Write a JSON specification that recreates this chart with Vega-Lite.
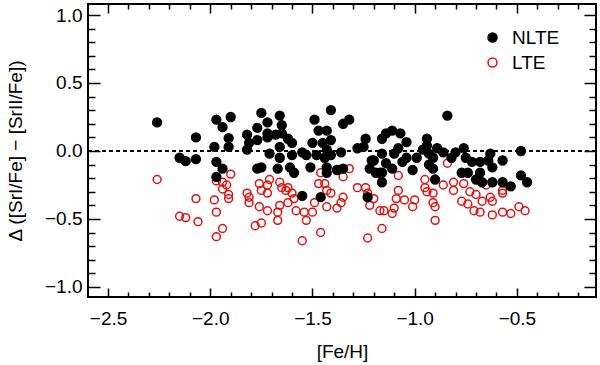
{
  "$schema": "https://vega.github.io/schema/vega-lite/v6.json",
  "width": 508,
  "height": 293,
  "autosize": {"type": "none"},
  "padding": {"left": 88, "top": 4, "right": 4, "bottom": 68},
  "config": {
    "font": "Liberation Sans",
    "view": {"stroke": "black", "strokeWidth": 2},
    "axis": {"grid": false, "domain": false, "tickColor": "black", "labelColor": "black", "titleColor": "black", "tickWidth": 1.5}
  },
  "data": {"values": [
    {"x":-2.26,"y":0.21,"type":"NLTE"},{"x":-2.15,"y":-0.05,"type":"NLTE"},{"x":-2.12,"y":-0.075,"type":"NLTE"},{"x":-2.07,"y":0.10,"type":"NLTE"},{"x":-2.07,"y":-0.06,"type":"NLTE"},
    {"x":-1.98,"y":0.03,"type":"NLTE"},{"x":-1.97,"y":0.23,"type":"NLTE"},{"x":-1.90,"y":0.25,"type":"NLTE"},{"x":-1.94,"y":0.175,"type":"NLTE"},{"x":-1.91,"y":0.094,"type":"NLTE"},
    {"x":-1.91,"y":0.03,"type":"NLTE"},{"x":-1.97,"y":-0.08,"type":"NLTE"},{"x":-1.94,"y":-0.13,"type":"NLTE"},{"x":-1.97,"y":-0.19,"type":"NLTE"},{"x":-1.82,"y":0.12,"type":"NLTE"},
    {"x":-1.75,"y":0.28,"type":"NLTE"},{"x":-1.72,"y":0.21,"type":"NLTE"},{"x":-1.77,"y":0.17,"type":"NLTE"},{"x":-1.81,"y":0.06,"type":"NLTE"},{"x":-1.77,"y":0.08,"type":"NLTE"},
    {"x":-1.82,"y":0.01,"type":"NLTE"},{"x":-1.77,"y":-0.13,"type":"NLTE"},{"x":-1.75,"y":-0.12,"type":"NLTE"},{"x":-1.71,"y":-0.02,"type":"NLTE"},{"x":-1.66,"y":0.26,"type":"NLTE"},
    {"x":-1.65,"y":0.19,"type":"NLTE"},{"x":-1.72,"y":0.13,"type":"NLTE"},{"x":-1.68,"y":0.12,"type":"NLTE"},{"x":-1.65,"y":0.13,"type":"NLTE"},{"x":-1.62,"y":0.09,"type":"NLTE"},
    {"x":-1.66,"y":0.03,"type":"NLTE"},{"x":-1.60,"y":0.06,"type":"NLTE"},{"x":-1.66,"y":-0.05,"type":"NLTE"},{"x":-1.67,"y":-0.13,"type":"NLTE"},{"x":-1.60,"y":-0.03,"type":"NLTE"},
    {"x":-1.61,"y":-0.12,"type":"NLTE"},{"x":-1.59,"y":-0.16,"type":"NLTE"},{"x":-1.55,"y":-0.01,"type":"NLTE"},{"x":-1.53,"y":-0.03,"type":"NLTE"},{"x":-1.51,"y":-0.12,"type":"NLTE"},
    {"x":-1.50,"y":0.06,"type":"NLTE"},{"x":-1.48,"y":-0.03,"type":"NLTE"},{"x":-1.43,"y":-0.12,"type":"NLTE"},{"x":-1.43,"y":-0.16,"type":"NLTE"},{"x":-1.41,"y":-0.03,"type":"NLTE"},
    {"x":-1.38,"y":-0.14,"type":"NLTE"},{"x":-1.36,"y":-0.01,"type":"NLTE"},{"x":-1.55,"y":-0.33,"type":"NLTE"},{"x":-1.46,"y":-0.34,"type":"NLTE"},{"x":-1.49,"y":0.23,"type":"NLTE"},
    {"x":-1.47,"y":0.15,"type":"NLTE"},{"x":-1.43,"y":0.15,"type":"NLTE"},{"x":-1.41,"y":0.30,"type":"NLTE"},{"x":-1.35,"y":0.20,"type":"NLTE"},{"x":-1.32,"y":0.23,"type":"NLTE"},
    {"x":-1.45,"y":0.06,"type":"NLTE"},{"x":-1.41,"y":0.08,"type":"NLTE"},{"x":-1.43,"y":0.01,"type":"NLTE"},{"x":-1.44,"y":-0.05,"type":"NLTE"},{"x":-1.35,"y":-0.13,"type":"NLTE"},
    {"x":-1.28,"y":0.02,"type":"NLTE"},{"x":-1.25,"y":0.03,"type":"NLTE"},{"x":-1.24,"y":0.09,"type":"NLTE"},{"x":-1.21,"y":-0.07,"type":"NLTE"},{"x":-1.22,"y":-0.13,"type":"NLTE"},
    {"x":-1.19,"y":-0.16,"type":"NLTE"},{"x":-1.16,"y":-0.23,"type":"NLTE"},{"x":-1.23,"y":-0.34,"type":"NLTE"},{"x":-1.16,"y":0.09,"type":"NLTE"},{"x":-1.14,"y":0.13,"type":"NLTE"},
    {"x":-1.11,"y":0.15,"type":"NLTE"},{"x":-1.07,"y":0.13,"type":"NLTE"},{"x":-1.04,"y":0.065,"type":"NLTE"},{"x":-0.94,"y":0.09,"type":"NLTE"},{"x":-0.94,"y":0.04,"type":"NLTE"},
    {"x":-0.84,"y":0.26,"type":"NLTE"},{"x":-1.16,"y":-0.02,"type":"NLTE"},{"x":-1.10,"y":-0.02,"type":"NLTE"},{"x":-1.08,"y":0.02,"type":"NLTE"},{"x":-1.04,"y":-0.05,"type":"NLTE"},
    {"x":-0.99,"y":-0.05,"type":"NLTE"},{"x":-0.96,"y":0.01,"type":"NLTE"},{"x":-0.93,"y":-0.02,"type":"NLTE"},{"x":-0.91,"y":-0.05,"type":"NLTE"},{"x":-0.89,"y":0.02,"type":"NLTE"},
    {"x":-0.86,"y":-0.01,"type":"NLTE"},{"x":-0.80,"y":-0.01,"type":"NLTE"},{"x":-0.76,"y":0.02,"type":"NLTE"},{"x":-0.82,"y":-0.05,"type":"NLTE"},{"x":-0.75,"y":-0.05,"type":"NLTE"},
    {"x":-0.72,"y":-0.08,"type":"NLTE"},{"x":-0.68,"y":-0.08,"type":"NLTE"},{"x":-0.63,"y":-0.02,"type":"NLTE"},{"x":-0.64,"y":-0.07,"type":"NLTE"},{"x":-0.62,"y":-0.12,"type":"NLTE"},
    {"x":-0.57,"y":-0.07,"type":"NLTE"},{"x":-0.48,"y":0.00,"type":"NLTE"},{"x":-1.14,"y":-0.09,"type":"NLTE"},{"x":-1.11,"y":-0.13,"type":"NLTE"},{"x":-1.06,"y":-0.08,"type":"NLTE"},
    {"x":-1.16,"y":-0.16,"type":"NLTE"},{"x":-1.01,"y":-0.14,"type":"NLTE"},{"x":-0.93,"y":-0.10,"type":"NLTE"},{"x":-0.91,"y":-0.13,"type":"NLTE"},{"x":-0.77,"y":-0.16,"type":"NLTE"},
    {"x":-0.74,"y":-0.16,"type":"NLTE"},{"x":-0.68,"y":-0.16,"type":"NLTE"},{"x":-0.70,"y":-0.21,"type":"NLTE"},{"x":-0.67,"y":-0.23,"type":"NLTE"},{"x":-0.62,"y":-0.23,"type":"NLTE"},
    {"x":-0.57,"y":-0.23,"type":"NLTE"},{"x":-0.53,"y":-0.26,"type":"NLTE"},{"x":-0.48,"y":-0.18,"type":"NLTE"},{"x":-0.45,"y":-0.23,"type":"NLTE"},{"x":-0.90,"y":-0.21,"type":"NLTE"},
    {"x":-1.17,"y":-0.16,"type":"NLTE"},{"x":-1.20,"y":-0.07,"type":"NLTE"},{"x":-1.72,"y":0.10,"type":"NLTE"},
    {"x":-2.26,"y":-0.21,"type":"LTE"},{"x":-2.15,"y":-0.48,"type":"LTE"},{"x":-2.12,"y":-0.49,"type":"LTE"},{"x":-2.06,"y":-0.52,"type":"LTE"},{"x":-2.07,"y":-0.35,"type":"LTE"},
    {"x":-1.98,"y":-0.36,"type":"LTE"},{"x":-1.97,"y":-0.45,"type":"LTE"},{"x":-1.97,"y":-0.63,"type":"LTE"},{"x":-1.94,"y":-0.57,"type":"LTE"},{"x":-1.97,"y":-0.22,"type":"LTE"},
    {"x":-1.94,"y":-0.23,"type":"LTE"},{"x":-1.94,"y":-0.28,"type":"LTE"},{"x":-1.92,"y":-0.25,"type":"LTE"},{"x":-1.91,"y":-0.32,"type":"LTE"},{"x":-1.91,"y":-0.35,"type":"LTE"},
    {"x":-1.90,"y":-0.17,"type":"LTE"},{"x":-1.82,"y":-0.31,"type":"LTE"},{"x":-1.81,"y":-0.34,"type":"LTE"},{"x":-1.81,"y":-0.38,"type":"LTE"},{"x":-1.76,"y":-0.24,"type":"LTE"},
    {"x":-1.75,"y":-0.29,"type":"LTE"},{"x":-1.72,"y":-0.31,"type":"LTE"},{"x":-1.76,"y":-0.41,"type":"LTE"},{"x":-1.72,"y":-0.44,"type":"LTE"},{"x":-1.78,"y":-0.55,"type":"LTE"},
    {"x":-1.75,"y":-0.53,"type":"LTE"},{"x":-1.71,"y":-0.21,"type":"LTE"},{"x":-1.66,"y":-0.23,"type":"LTE"},{"x":-1.72,"y":-0.25,"type":"LTE"},
    {"x":-1.65,"y":-0.27,"type":"LTE"},{"x":-1.62,"y":-0.27,"type":"LTE"},{"x":-1.63,"y":-0.29,"type":"LTE"},{"x":-1.60,"y":-0.31,"type":"LTE"},{"x":-1.59,"y":-0.35,"type":"LTE"},
    {"x":-1.62,"y":-0.38,"type":"LTE"},{"x":-1.66,"y":-0.40,"type":"LTE"},{"x":-1.67,"y":-0.45,"type":"LTE"},{"x":-1.67,"y":-0.51,"type":"LTE"},{"x":-1.58,"y":-0.44,"type":"LTE"},
    {"x":-1.54,"y":-0.45,"type":"LTE"},{"x":-1.53,"y":-0.51,"type":"LTE"},{"x":-1.50,"y":-0.45,"type":"LTE"},{"x":-1.49,"y":-0.38,"type":"LTE"},{"x":-1.47,"y":-0.24,"type":"LTE"},
    {"x":-1.44,"y":-0.24,"type":"LTE"},{"x":-1.43,"y":-0.29,"type":"LTE"},{"x":-1.41,"y":-0.31,"type":"LTE"},{"x":-1.43,"y":-0.41,"type":"LTE"},{"x":-1.38,"y":-0.42,"type":"LTE"},
    {"x":-1.36,"y":-0.38,"type":"LTE"},{"x":-1.35,"y":-0.34,"type":"LTE"},{"x":-1.55,"y":-0.66,"type":"LTE"},{"x":-1.46,"y":-0.60,"type":"LTE"},{"x":-1.46,"y":-0.16,"type":"LTE"},
    {"x":-1.32,"y":-0.13,"type":"LTE"},{"x":-1.35,"y":-0.19,"type":"LTE"},{"x":-1.28,"y":-0.27,"type":"LTE"},{"x":-1.24,"y":-0.27,"type":"LTE"},{"x":-1.23,"y":-0.31,"type":"LTE"},
    {"x":-1.22,"y":-0.40,"type":"LTE"},{"x":-1.20,"y":-0.35,"type":"LTE"},{"x":-1.17,"y":-0.44,"type":"LTE"},{"x":-1.15,"y":-0.44,"type":"LTE"},{"x":-1.11,"y":-0.46,"type":"LTE"},
    {"x":-1.10,"y":-0.42,"type":"LTE"},{"x":-1.09,"y":-0.35,"type":"LTE"},{"x":-1.08,"y":-0.29,"type":"LTE"},{"x":-1.08,"y":-0.18,"type":"LTE"},{"x":-1.05,"y":-0.36,"type":"LTE"},
    {"x":-1.01,"y":-0.41,"type":"LTE"},{"x":-1.00,"y":-0.36,"type":"LTE"},{"x":-0.95,"y":-0.21,"type":"LTE"},{"x":-0.95,"y":-0.27,"type":"LTE"},{"x":-0.94,"y":-0.30,"type":"LTE"},
    {"x":-0.91,"y":-0.31,"type":"LTE"},{"x":-0.91,"y":-0.38,"type":"LTE"},{"x":-0.90,"y":-0.41,"type":"LTE"},{"x":-0.90,"y":-0.51,"type":"LTE"},{"x":-0.81,"y":-0.29,"type":"LTE"},
    {"x":-1.16,"y":-0.57,"type":"LTE"},{"x":-1.23,"y":-0.64,"type":"LTE"},{"x":-0.84,"y":-0.09,"type":"LTE"},{"x":-0.86,"y":-0.25,"type":"LTE"},{"x":-0.81,"y":-0.23,"type":"LTE"},
    {"x":-0.76,"y":-0.24,"type":"LTE"},{"x":-0.73,"y":-0.30,"type":"LTE"},{"x":-0.70,"y":-0.32,"type":"LTE"},{"x":-0.77,"y":-0.37,"type":"LTE"},{"x":-0.74,"y":-0.39,"type":"LTE"},
    {"x":-0.67,"y":-0.37,"type":"LTE"},{"x":-0.63,"y":-0.34,"type":"LTE"},{"x":-0.62,"y":-0.37,"type":"LTE"},{"x":-0.57,"y":-0.29,"type":"LTE"},{"x":-0.57,"y":-0.31,"type":"LTE"},
    {"x":-0.71,"y":-0.44,"type":"LTE"},{"x":-0.68,"y":-0.45,"type":"LTE"},{"x":-0.62,"y":-0.47,"type":"LTE"},{"x":-0.57,"y":-0.45,"type":"LTE"},{"x":-0.53,"y":-0.46,"type":"LTE"},
    {"x":-0.49,"y":-0.41,"type":"LTE"},{"x":-0.46,"y":-0.44,"type":"LTE"},{"x":-0.65,"y":-0.25,"type":"LTE"}
  ]},
  "resolve": {"axis": {"x": "independent", "y": "independent"}},
  "layer": [
    {
      "mark": {"type": "rule", "color": "black", "strokeWidth": 1, "strokeDash": [4, 3]},
      "encoding": {"y": {"datum": 0, "type": "quantitative", "axis": null}}
    },
    {
      "transform": [{"filter": "datum.type === 'LTE'"}],
      "mark": {"type": "point", "shape": "circle", "size": 62, "strokeWidth": 1.5, "opacity": 1},
      "encoding": {
        "x": {"field": "x", "type": "quantitative", "scale": {"domain": [-2.598, -0.113], "nice": false, "zero": false},
          "axis": {"orient": "bottom", "values": [-2.5, -2, -1.5, -1, -0.5], "format": ".1f", "ticks": false, "labelFontSize": 19, "labelPadding": 12,
            "title": "[Fe/H]", "titleFontSize": 19, "titleFontWeight": "normal", "titleY": 54, "titleBaseline": "middle"}},
        "y": {"field": "y", "type": "quantitative", "scale": {"domain": [-1.074, 1.081], "nice": false, "zero": false},
          "axis": {"orient": "left", "values": [-1, -0.5, 0, 0.5, 1], "format": ".1f", "ticks": false, "labelFontSize": 19, "labelPadding": 6,
            "title": "Δ ([SrI/Fe] − [SrII/Fe])", "titleFontSize": 19, "titleFontWeight": "normal", "titleX": -73, "titleBaseline": "middle"}},
        "fill": {"field": "type", "type": "nominal", "scale": {"domain": ["NLTE", "LTE"], "range": ["black", "transparent"]},
          "legend": {"title": null, "orient": "none", "legendX": 395, "legendY": 24, "labelFontSize": 19, "symbolSize": 80, "symbolStrokeWidth": 1.5, "labelOffset": 10, "rowPadding": 5, "padding": 0, "labelColor": "black"}},
        "stroke": {"field": "type", "type": "nominal", "scale": {"domain": ["NLTE", "LTE"], "range": ["black", "#e01010"]},
          "legend": {"title": null, "orient": "none", "legendX": 395, "legendY": 24, "labelFontSize": 19, "symbolSize": 80, "symbolStrokeWidth": 1.5, "labelOffset": 10, "rowPadding": 5, "padding": 0, "labelColor": "black"}}
      }
    },
    {
      "transform": [{"filter": "datum.type === 'NLTE'"}],
      "mark": {"type": "point", "shape": "circle", "size": 78, "strokeWidth": 1.5, "opacity": 1},
      "encoding": {
        "x": {"field": "x", "type": "quantitative", "axis": {"orient": "bottom", "values": [-2.5, -2, -1.5, -1, -0.5], "labels": false, "tickSize": -9, "title": null}},
        "y": {"field": "y", "type": "quantitative", "axis": {"orient": "left", "values": [-1, -0.5, 0, 0.5, 1], "labels": false, "tickSize": -12, "title": null}},
        "fill": {"field": "type", "type": "nominal"},
        "stroke": {"field": "type", "type": "nominal"}
      }
    },
    {
      "mark": {"type": "point", "opacity": 0},
      "encoding": {
        "x": {"field": "x", "type": "quantitative", "axis": {"orient": "bottom", "values": [-2.4,-2.3,-2.2,-2.1,-1.9,-1.8,-1.7,-1.6,-1.4,-1.3,-1.2,-1.1,-0.9,-0.8,-0.7,-0.6,-0.4,-0.3,-0.2], "labels": false, "tickSize": -5, "title": null}},
        "y": {"field": "y", "type": "quantitative", "axis": {"orient": "left", "values": [-0.9,-0.8,-0.7,-0.6,-0.4,-0.3,-0.2,-0.1,0.1,0.2,0.3,0.4,0.6,0.7,0.8,0.9], "labels": false, "tickSize": -7, "title": null}}
      }
    },
    {
      "mark": {"type": "point", "opacity": 0},
      "encoding": {
        "x": {"field": "x", "type": "quantitative", "axis": {"orient": "top", "values": [-2.5, -2, -1.5, -1, -0.5], "labels": false, "tickSize": -9, "title": null}},
        "y": {"field": "y", "type": "quantitative", "axis": {"orient": "right", "values": [-1, -0.5, 0, 0.5, 1], "labels": false, "tickSize": -12, "title": null}}
      }
    },
    {
      "mark": {"type": "point", "opacity": 0},
      "encoding": {
        "x": {"field": "x", "type": "quantitative", "axis": {"orient": "top", "values": [-2.4,-2.3,-2.2,-2.1,-1.9,-1.8,-1.7,-1.6,-1.4,-1.3,-1.2,-1.1,-0.9,-0.8,-0.7,-0.6,-0.4,-0.3,-0.2], "labels": false, "tickSize": -5, "title": null}},
        "y": {"field": "y", "type": "quantitative", "axis": {"orient": "right", "values": [-0.9,-0.8,-0.7,-0.6,-0.4,-0.3,-0.2,-0.1,0.1,0.2,0.3,0.4,0.6,0.7,0.8,0.9], "labels": false, "tickSize": -7, "title": null}}
      }
    }
  ]
}
